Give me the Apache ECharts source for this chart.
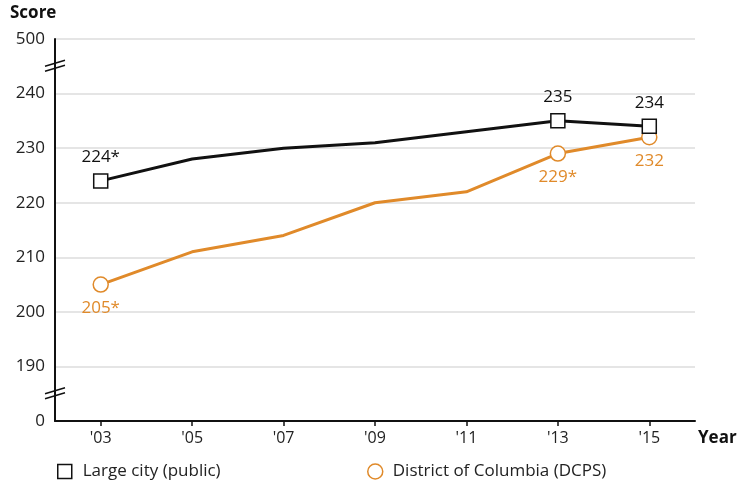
<!DOCTYPE html>
<html>
<head>
<meta charset="utf-8">
<script src="https://cdn.jsdelivr.net/npm/echarts@6/dist/echarts.min.js"></script>
<style>
html,body{margin:0;padding:0;background:#fff;}
#chart{width:748px;height:485px;}
</style>
</head>
<body>
<div id="chart"></div>
<script>
// 年份 + 两条线的分数（中间年份不画标记）
const years=["'03","'05","'07","'09","'11","'13","'15"];
const largeCity=[224,228,230,231,233,235,234];
const dcps=[205,211,214,220,222,229,232];
const largeLabels=['224*',null,null,null,null,'235','234'];
const dcpsLabels=['205*',null,null,null,null,'229*','232'];
const marked=[true,false,false,false,false,true,true];
// 轴上断开：180 位置显示 0，250 位置显示 500
const yTicks={180:'0',190:'190',200:'200',210:'210',220:'220',230:'230',240:'240',250:'500'};

const FONT='"Open Sans","Noto Sans",sans-serif';
const BLACK='#111', ORANGE='#e08a2a';

const chart=echarts.init(document.getElementById('chart'));

function pts(vals,labels,sym,color,pos){
  return vals.map((v,i)=>({
    value:v,
    symbol:marked[i]?sym:'none',
    label:labels[i]?{show:true,formatter:labels[i],position:pos,color:color,
      fontSize:17,fontFamily:FONT,distance:7}:{show:false}
  }));
}

function breakMark(val){
  const y=chart.convertToPixel({yAxisIndex:0},val);
  const x0=chart.convertToPixel({xAxisIndex:0},0), x1=chart.convertToPixel({xAxisIndex:0},1);
  const x=x0-(x1-x0)/2;
  return {type:'group',x:x,y:y,z:100,children:[
    {type:'polygon',shape:{points:[[-4,-1],[4,-4],[4,1],[-4,4]]},style:{fill:'#fff'}},
    {type:'line',shape:{x1:-10,y1:0,x2:10,y2:-6},style:{stroke:BLACK,lineWidth:1.5}},
    {type:'line',shape:{x1:-10,y1:5,x2:10,y2:-1},style:{stroke:BLACK,lineWidth:1.5}}
  ]};
}
const titles=[
  {type:'text',left:10,top:5,style:{text:'Score',font:'bold 17px '+FONT,fill:'#111'}},
  {type:'text',left:698,top:430,style:{text:'Year',font:'bold 17px '+FONT,fill:'#111'}}
];

chart.setOption({
  animation:false,
  grid:{left:55,right:53,top:39,bottom:64},
  xAxis:{type:'category',data:years,boundaryGap:true,
    axisLine:{lineStyle:{color:BLACK,width:2}},
    axisTick:{show:true,alignWithLabel:true,length:5,lineStyle:{color:BLACK,width:1.5}},
    axisLabel:{color:'#222',fontSize:16,fontFamily:FONT,margin:9}},
  yAxis:{type:'value',min:180,max:250,interval:10,
    axisLine:{show:true,lineStyle:{color:BLACK,width:2}},
    axisTick:{show:false},
    axisLabel:{color:'#222',fontSize:17,fontFamily:FONT,margin:10,formatter:v=>yTicks[v]||''},
    splitLine:{lineStyle:{color:'#dcdcdc',width:1.5}}},
  legend:[
    {data:['Large city (public)'],left:52,top:458,icon:'rect',itemWidth:14,itemHeight:14,itemGap:10,
     itemStyle:{color:'#fff',borderColor:BLACK,borderWidth:1.5},
     textStyle:{fontSize:17,fontFamily:FONT,color:'#222',padding:[0,0,0,6]}},
    {data:['District of Columbia (DCPS)'],left:362,top:458,icon:'circle',itemWidth:15,itemHeight:15,
     itemStyle:{color:'#fff',borderColor:ORANGE,borderWidth:1.5},
     textStyle:{fontSize:17,fontFamily:FONT,color:'#222',padding:[0,0,0,5]}}
  ],
  graphic:titles,
  series:[
    {name:'District of Columbia (DCPS)',type:'line',z:2,symbolSize:15,showAllSymbol:true,
     lineStyle:{color:ORANGE,width:3},
     itemStyle:{color:'#fff',borderColor:ORANGE,borderWidth:1.5},
     data:pts(dcps,dcpsLabels,'circle',ORANGE,'bottom')},
    {name:'Large city (public)',type:'line',z:3,symbolSize:14,showAllSymbol:true,
     lineStyle:{color:BLACK,width:3},
     itemStyle:{color:'#fff',borderColor:BLACK,borderWidth:1.5},
     data:pts(largeCity,largeLabels,'rect',BLACK,'top')}
  ]
});

// 断轴符号：放在 245 和 185 处
chart.setOption({graphic:titles.concat([breakMark(245),breakMark(185)])},{replaceMerge:['graphic']});
</script>
</body>
</html>
